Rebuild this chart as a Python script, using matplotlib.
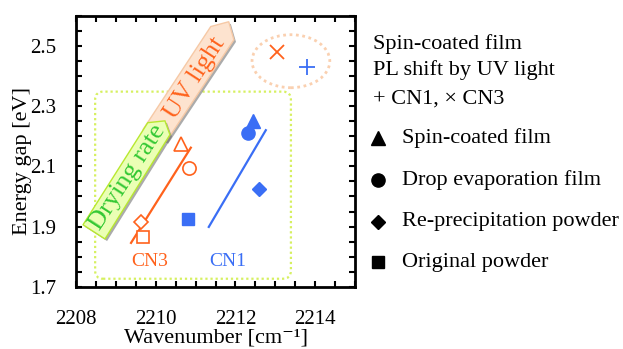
import matplotlib
matplotlib.use("Agg")
import matplotlib.pyplot as plt
import matplotlib.patches as mpatches
import matplotlib.patheffects as pe
from matplotlib.lines import Line2D
from matplotlib.ticker import MultipleLocator, FixedLocator

plt.rcParams["font.family"] = ["Liberation Serif", "DejaVu Serif"]

ORANGE = "#FF621C"
BLUE = "#3A6EF5"
GREEN = "#33C833"

# order: spin-coated film, drop evaporation film, re-precipitation powder, original powder
samples = ["spin", "drop", "reprec", "original"]
markers = ["^", "o", "D", "s"]
msizes = [10, 9.5, 7.5, 9]
cn1_x = [2212.45, 2212.31, 2212.59, 2210.81]
cn1_y = [2.25, 2.21, 2.026, 1.926]
cn3_x = [2210.63, 2210.83, 2209.63, 2209.68]
cn3_y = [2.175, 2.095, 1.916, 1.866]

# PL shift by UV light (spin-coated film)
uv_cn1 = (2213.8, 2.431)
uv_cn3 = (2213.05, 2.478)

# guide lines
cn3_line_x = [2209.38, 2210.88]
cn3_line_y = [1.846, 2.162]
cn1_line_x = [2211.33, 2212.76]
cn1_line_y = [1.899, 2.22]

# arrow bands (data coords)
uv_arrow = [(2209.68, 2.222), (2211.38, 2.564), (2211.83, 2.580),
            (2211.96, 2.52), (2210.26, 2.182)]
dry_arrow = [(2208.175, 1.906), (2209.80, 2.245), (2210.23, 2.251),
             (2210.356, 2.205), (2208.727, 1.859)]

fig = plt.figure(figsize=(6.23, 3.49), dpi=100)
ax = fig.add_axes([0.122, 0.178, 0.448, 0.777])

# green dotted region
box = mpatches.FancyBboxPatch((2208.48, 1.727), 2213.39 - 2208.48, 2.348 - 1.727,
                              boxstyle="round,pad=0,rounding_size=0.2",
                              mutation_aspect=0.135, fill=False,
                              edgecolor="#D6F060", linestyle=(0, (1, 1.3)), lw=1.6)
ax.add_patch(box)

# orange dotted ellipse
ell = mpatches.Ellipse((2213.39, 2.449), 1.95, 0.176, fill=False,
                       edgecolor="#FAD0B0", linestyle=(0, (1, 1.3)), lw=2)
ax.add_patch(ell)

shadow = [pe.SimplePatchShadow(offset=(1.5, -1.5), shadow_rgbFace="#666666", alpha=0.55),
          pe.Normal()]
uv = mpatches.Polygon(uv_arrow, closed=True, facecolor="#FDE3CF",
                      edgecolor="#F6C9A6", lw=1, path_effects=shadow, zorder=2)
ax.add_patch(uv)
dry = mpatches.Polygon(dry_arrow, closed=True, facecolor="#EBFFB5",
                       edgecolor="#B8E830", lw=1, path_effects=shadow, zorder=3)
ax.add_patch(dry)
ax.text(2210.98, 2.394, "UV light", color=ORANGE, fontsize=19, rotation=57,
        ha="center", va="center", rotation_mode="anchor", zorder=4)
ax.text(2209.30, 2.062, "Drying rate", color=GREEN, fontsize=19, rotation=57,
        ha="center", va="center", rotation_mode="anchor", zorder=4)

ax.plot(cn3_line_x, cn3_line_y, color=ORANGE, lw=1.6, zorder=5)
ax.plot(cn1_line_x, cn1_line_y, color=BLUE, lw=1.6, zorder=5)

for m, ms, x, y in zip(markers, msizes, cn1_x, cn1_y):
    ax.plot(x, y, marker=m, ms=ms, color=BLUE, ls="none", zorder=6)
for m, ms, x, y in zip(markers, msizes, cn3_x, cn3_y):
    ax.plot(x, y, marker=m, ms=ms, mfc="white", mec=ORANGE, mew=1.2,
            ls="none", zorder=6)

ax.plot(*uv_cn3, marker="x", ms=10, mew=1.3, color=ORANGE, ls="none", zorder=6)
ax.plot(*uv_cn1, marker="+", ms=11, mew=1.3, color=BLUE, ls="none", zorder=6)

ax.text(2209.85, 1.785, "CN3", color=ORANGE, fontsize=14, ha="center", va="center")
ax.text(2211.8, 1.785, "CN1", color=BLUE, fontsize=14, ha="center", va="center")

ax.set_xlim(2208, 2215)
ax.set_ylim(1.7, 2.6)
ax.xaxis.set_major_locator(FixedLocator([2208, 2210, 2212, 2214]))
ax.xaxis.set_minor_locator(MultipleLocator(0.5))
ax.yaxis.set_major_locator(FixedLocator([1.7, 1.9, 2.1, 2.3, 2.5]))
ax.yaxis.set_minor_locator(MultipleLocator(0.05))
ax.tick_params(which="both", direction="in", top=True, right=True,
               length=4, width=1.5, labelsize=15)
ax.tick_params(axis="x", which="major", pad=17)
ax.tick_params(axis="y", which="major", pad=14)
for s in ax.spines.values():
    s.set_linewidth(2)
ax.set_xlabel("Wavenumber [cm\u207b\u00b9]", fontsize=16, labelpad=-1)
ax.set_ylabel("Energy gap [eV]", fontsize=16)
ax.yaxis.set_label_coords(-0.158, 0.465)

# side legend
tx = 0.599
fig.text(tx, 0.874, "Spin-coated film", fontsize=16, va="center")
fig.text(tx, 0.799, "PL shift by UV light", fontsize=16, va="center")
fig.text(tx, 0.716, "+ CN1, \u00d7 CN3", fontsize=16, va="center")
leg_labels = ["Spin-coated film", "Drop evaporation film",
              "Re-precipitation powder", "Original powder"]
leg_y = [0.605, 0.484, 0.364, 0.249]
for m, ms, lab, yy in zip(markers, msizes, leg_labels, leg_y):
    fig.add_artist(Line2D([0.607], [yy], marker=m, ms=ms, color="black",
                          ls="none", transform=fig.transFigure))
    fig.text(0.645, yy, lab, fontsize=16, va="center")

fig.savefig("out.png", dpi=100)
